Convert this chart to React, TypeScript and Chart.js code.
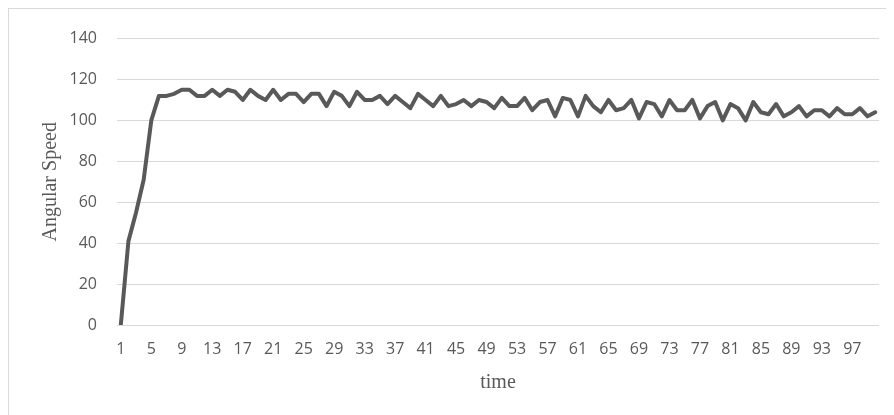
import React, { useEffect, useRef } from "react";
import { Chart, registerables } from "chart.js";

Chart.register(...registerables);

const timeLabels: string[] = Array.from({ length: 100 }, (_, i) => String(i + 1));
const xTickLabels = ["1","5","9","13","17","21","25","29","33","37","41","45","49","53","57","61","65","69","73","77","81","85","89","93","97"];
const yTickValues = [0, 20, 40, 60, 80, 100, 120, 140];
const angularSpeed = [
  0, 41, 55, 71, 100, 112, 112, 113, 115, 115,
  112, 112, 115, 112, 115, 114, 110, 115, 112, 110,
  115, 110, 113, 113, 109, 113, 113, 107, 114, 112,
  107, 114, 110, 110, 112, 108, 112, 109, 106, 113,
  110, 107, 112, 107, 108, 110, 107, 110, 109, 106,
  111, 107, 107, 111, 105, 109, 110, 102, 111, 110,
  102, 112, 107, 104, 110, 105, 106, 110, 101, 109,
  108, 102, 110, 105, 105, 110, 101, 107, 109, 100,
  108, 106, 100, 109, 104, 103, 108, 102, 104, 107,
  102, 105, 105, 102, 106, 103, 103, 106, 102, 104,
];

const tickFont = { family: "'Open Sans', 'Liberation Sans', sans-serif", size: 16 };
const titleFont = { family: "'Liberation Serif', 'Times New Roman', serif", size: 20 };
const textColor = "#595959";
const gridColor = "#d9d9d9";

export default function App() {
  const ref = useRef<HTMLCanvasElement | null>(null);
  useEffect(() => {
    document.body.style.overflow = "hidden";
    if (!ref.current) return;
    const chart = new Chart(ref.current, {
      type: "line",
      data: {
        labels: timeLabels,
        datasets: [
          {
            data: angularSpeed,
            borderColor: "#595959",
            borderWidth: 4,
            pointRadius: 0,
            tension: 0,
            borderJoinStyle: "round",
            borderCapStyle: "round",
            fill: false,
          },
        ],
      },
      options: {
        animation: false,
        responsive: false,
        maintainAspectRatio: false,
        layout: { padding: { left: 26, right: 16, top: 23, bottom: 30 } },
        plugins: { legend: { display: false }, tooltip: { enabled: false } },
        scales: {
          x: {
            type: "category",
            offset: true,
            grid: { display: false, drawTicks: false },
            border: { display: false },
            ticks: {
              autoSkip: false,
              maxRotation: 0,
              minRotation: 0,
              padding: 15,
              color: textColor,
              font: tickFont,
              callback: function (this: any, _v: any, index: number) {
                const lab = timeLabels[index];
                return xTickLabels.includes(lab) ? lab : "";
              },
            },
            title: { display: true, text: "time", color: textColor, font: titleFont, padding: { top: 4, bottom: 4 } },
            afterFit: (s: any) => { s.height = 74; },
          },
          y: {
            min: 0,
            max: 140,
            grid: { color: gridColor, lineWidth: 1, drawTicks: false },
            border: { display: false },
            afterBuildTicks: (s: any) => { s.ticks = yTickValues.map((v) => ({ value: v })); },
            ticks: { padding: 20, color: textColor, font: tickFont },
            title: { display: true, text: "Angular Speed", color: textColor, font: titleFont, padding: { top: 4, bottom: 4 } },
            afterFit: (s: any) => { s.width = 82; },
          },
        },
      },
    });
    return () => chart.destroy();
  }, []);
  return (
    <div style={{ width: 886, height: 420, border: "1px solid #d9d9d9", background: "#fff" }}>
      <canvas ref={ref} width={886} height={420} style={{ display: "block" }} />
    </div>
  );
}
